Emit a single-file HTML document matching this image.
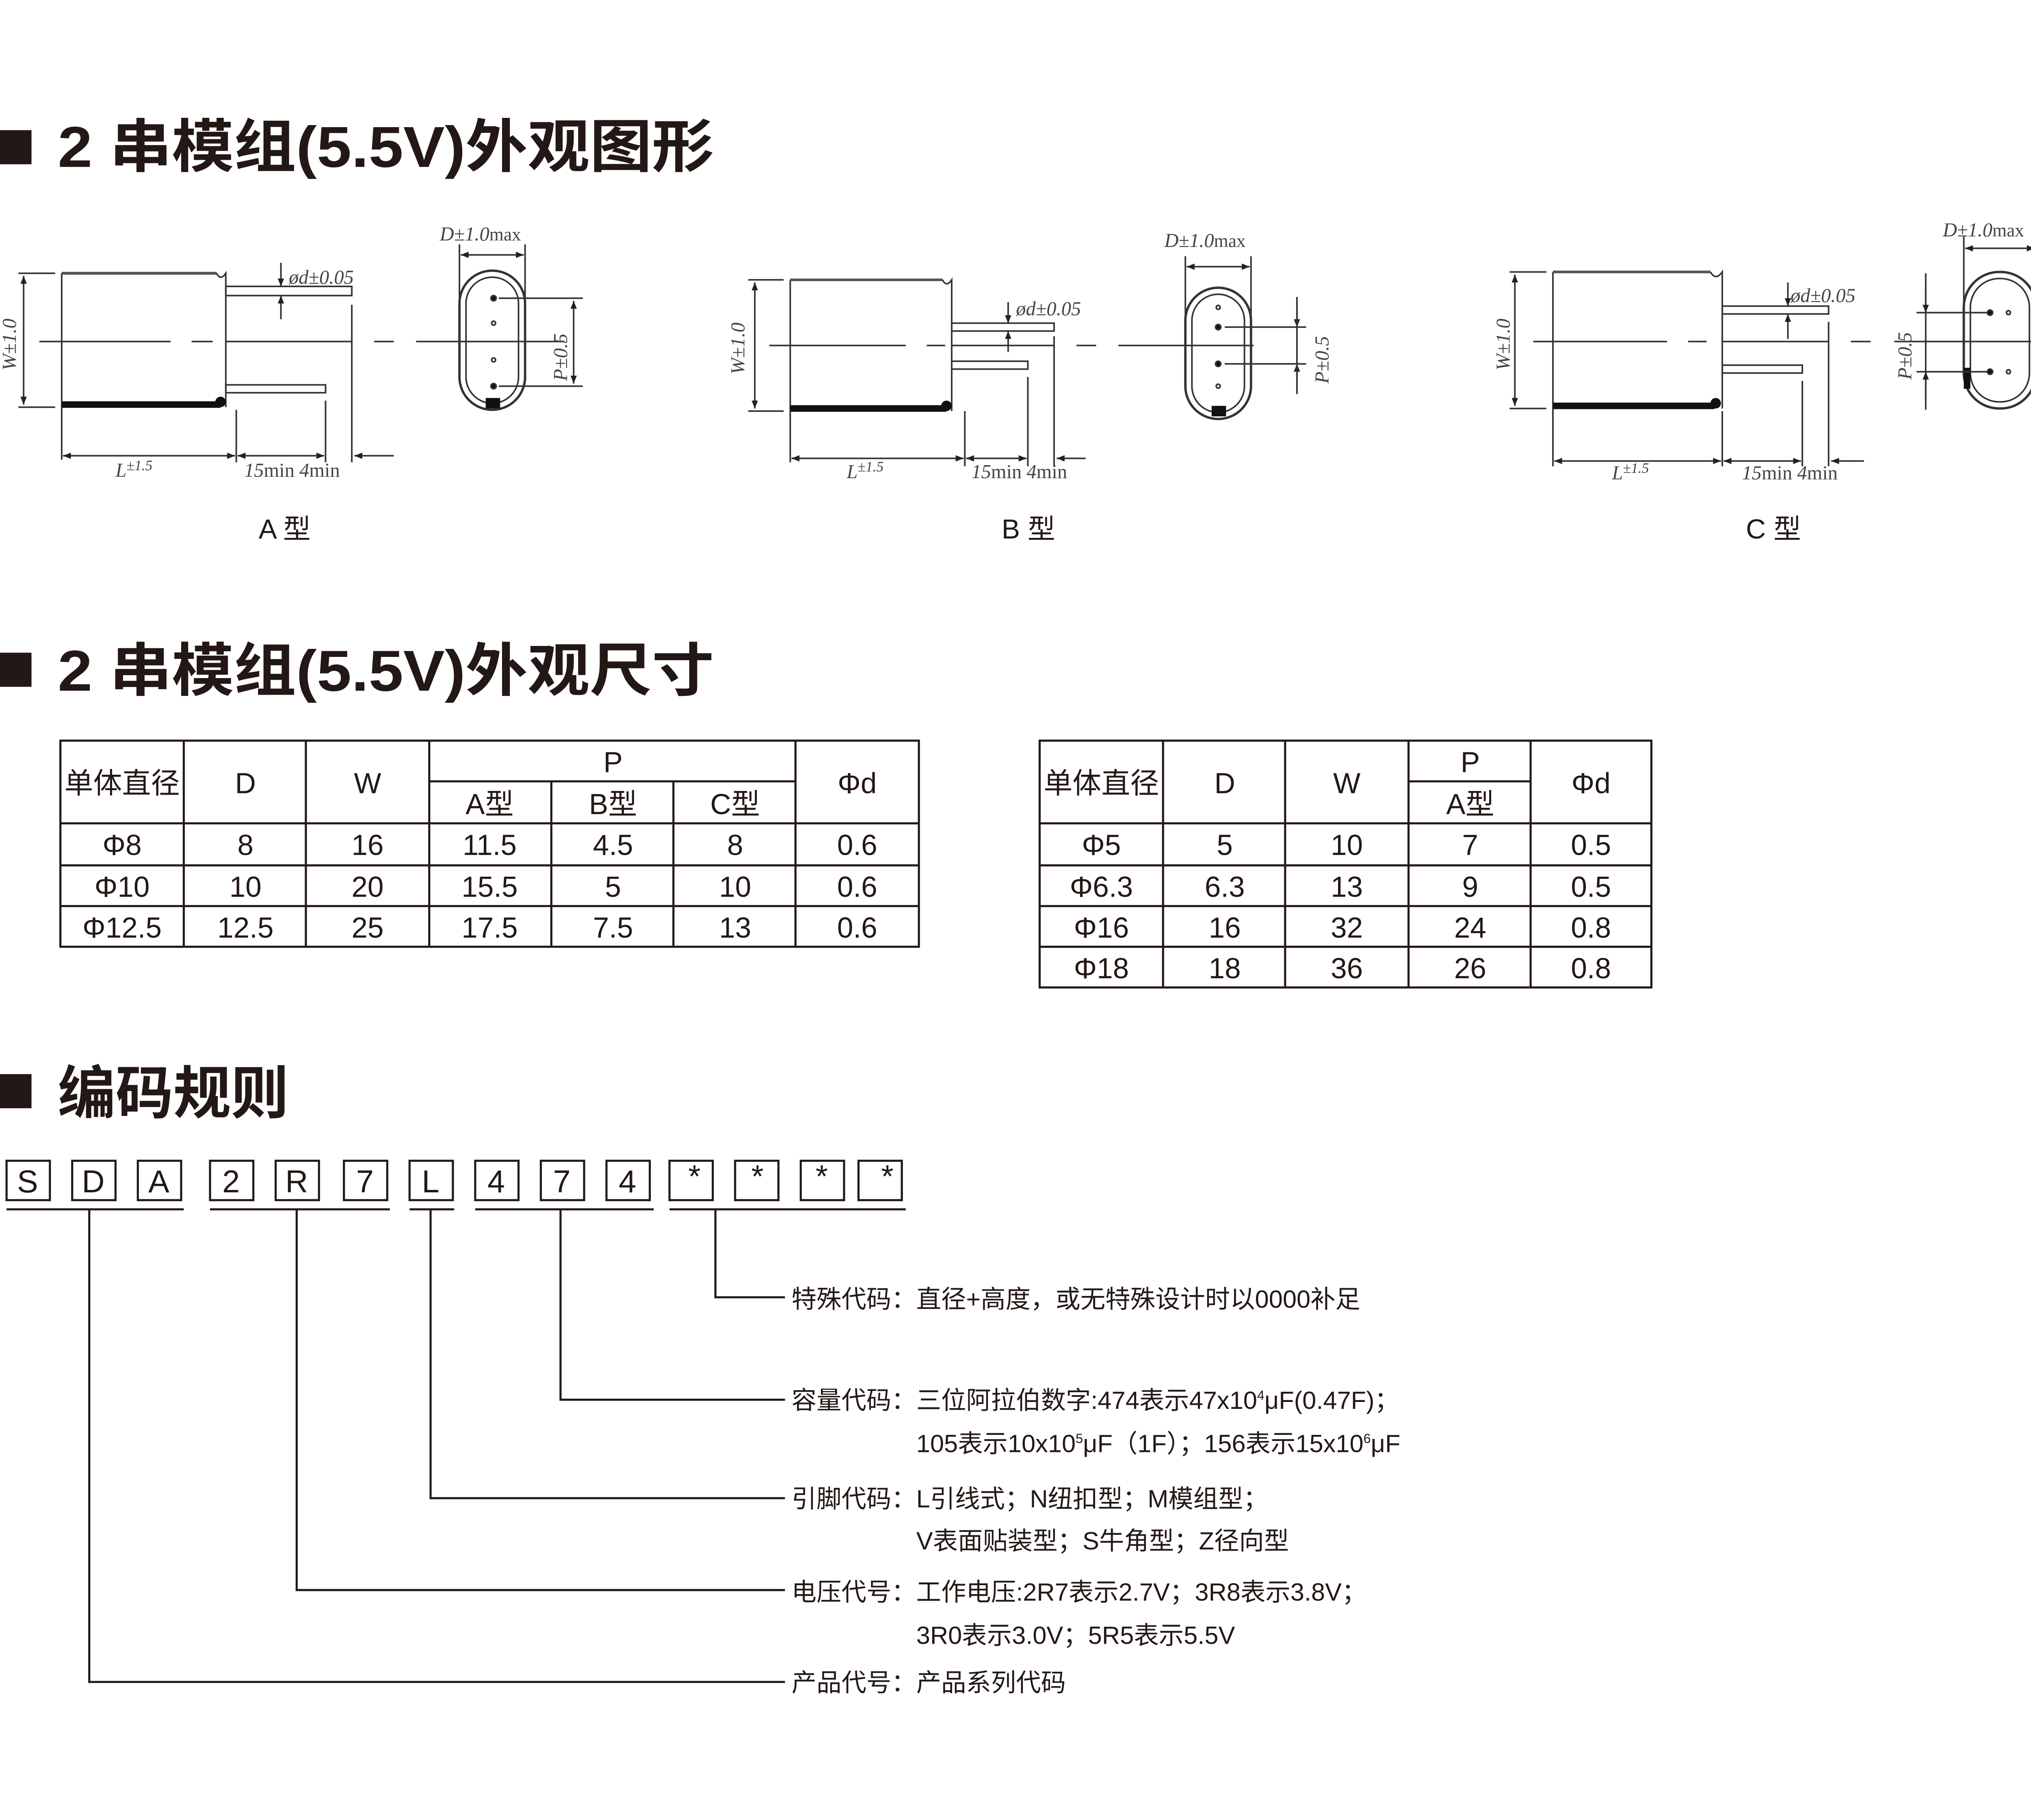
<!DOCTYPE html>
<html><head><meta charset="utf-8"><style>
html,body{margin:0;padding:0;background:#fff;}
svg{display:block;}
text{font-family:"Liberation Sans","Noto Sans CJK SC",sans-serif;fill:#231815;}
.s{font-family:"Liberation Serif","Noto Serif CJK SC",serif;font-style:italic;fill:#444;}
</style></head><body>
<svg width="5064" height="4480" viewBox="0 0 1567 1386" xmlns="http://www.w3.org/2000/svg">
<defs>
<marker id="ar" viewBox="0 0 10 10" refX="10" refY="5" markerWidth="7" markerHeight="5" orient="auto-start-reverse"><path d="M0,1 L10,5 L0,9 z" fill="#222"/></marker>
</defs>
<rect width="1567" height="1386" fill="#fff"/>

<!-- Headings -->
<rect x="0" y="99" width="24" height="26" fill="#231815"/>
<text x="44" y="127" font-size="44" font-weight="bold" textLength="500" lengthAdjust="spacingAndGlyphs">2 串模组(5.5V)外观图形</text>
<rect x="0" y="497" width="24" height="26" fill="#231815"/>
<text x="44" y="526" font-size="44" font-weight="bold" textLength="500" lengthAdjust="spacingAndGlyphs">2 串模组(5.5V)外观尺寸</text>
<rect x="0" y="818" width="24" height="26" fill="#231815"/>
<text x="44" y="848" font-size="44" font-weight="bold">编码规则</text>

<g stroke="#333" fill="none" stroke-width="1.2">
<!-- ===== A ===== -->
<line x1="47" y1="208" x2="47" y2="350"/>
<line x1="47" y1="208" x2="165" y2="208" stroke-width="2.2" stroke="#555"/>
<path d="M165,208 q3,6 7,0 L172,310"/>
<line x1="47" y1="308" x2="168" y2="308" stroke="#111" stroke-width="5"/>
<circle cx="168" cy="306" r="4" fill="#111" stroke="none"/>
<line x1="14" y1="208" x2="42" y2="208"/><line x1="14" y1="310" x2="42" y2="310"/>
<line x1="18" y1="210" x2="18" y2="308" marker-start="url(#ar)" marker-end="url(#ar)"/>
<rect x="172" y="218" width="96" height="7"/>
<rect x="172" y="293" width="76" height="6"/>
<line x1="30" y1="260" x2="130" y2="260"/><line x1="146" y1="260" x2="162" y2="260"/><line x1="172" y1="260" x2="268" y2="260"/><line x1="285" y1="260" x2="300" y2="260"/><line x1="317" y1="260" x2="430" y2="260"/>
<line x1="214" y1="200" x2="214" y2="218" marker-end="url(#ar)"/><line x1="214" y1="243" x2="214" y2="225" marker-end="url(#ar)"/>
<line x1="268" y1="232" x2="268" y2="352"/><line x1="248" y1="305" x2="248" y2="352"/><line x1="180" y1="312" x2="180" y2="352"/>
<line x1="48" y1="347" x2="179" y2="347" marker-start="url(#ar)" marker-end="url(#ar)"/>
<line x1="181" y1="347" x2="247" y2="347" marker-start="url(#ar)" marker-end="url(#ar)"/>
<line x1="300" y1="347" x2="270" y2="347" marker-end="url(#ar)"/>
<rect x="350" y="206" width="50" height="106" rx="25" stroke-width="1.8"/>
<rect x="355" y="211" width="40" height="96" rx="20"/>
<rect x="370" y="303" width="11" height="8" fill="#111" stroke="none"/>
<circle cx="376" cy="227" r="2" fill="#111"/><circle cx="376" cy="246" r="1.5"/><circle cx="376" cy="274" r="1.5"/><circle cx="376" cy="294" r="2" fill="#111"/>
<line x1="350" y1="186" x2="350" y2="250"/><line x1="400" y1="186" x2="400" y2="250"/>
<line x1="351" y1="194" x2="399" y2="194" marker-start="url(#ar)" marker-end="url(#ar)"/>
<line x1="380" y1="227" x2="444" y2="227"/><line x1="380" y1="294" x2="444" y2="294"/>
<line x1="437" y1="229" x2="437" y2="292" marker-start="url(#ar)" marker-end="url(#ar)"/>

<!-- ===== B ===== -->
<line x1="602" y1="213" x2="602" y2="352"/>
<line x1="602" y1="213" x2="718" y2="213" stroke-width="2" stroke="#555"/>
<path d="M718,213 q3,6 7,0 L725,313"/>
<line x1="602" y1="311" x2="721" y2="311" stroke="#111" stroke-width="5"/>
<circle cx="721" cy="309" r="4" fill="#111" stroke="none"/>
<line x1="570" y1="213" x2="597" y2="213"/><line x1="570" y1="313" x2="597" y2="313"/>
<line x1="575" y1="215" x2="575" y2="311" marker-start="url(#ar)" marker-end="url(#ar)"/>
<rect x="725" y="246" width="78" height="6"/>
<rect x="725" y="275" width="58" height="6"/>
<line x1="586" y1="263" x2="690" y2="263"/><line x1="706" y1="263" x2="720" y2="263"/><line x1="725" y1="263" x2="803" y2="263"/><line x1="820" y1="263" x2="835" y2="263"/><line x1="852" y1="263" x2="955" y2="263"/>
<line x1="768" y1="230" x2="768" y2="246" marker-end="url(#ar)"/><line x1="768" y1="268" x2="768" y2="252" marker-end="url(#ar)"/>
<line x1="803" y1="256" x2="803" y2="355"/><line x1="783" y1="287" x2="783" y2="355"/><line x1="735" y1="313" x2="735" y2="355"/>
<line x1="603" y1="349" x2="734" y2="349" marker-start="url(#ar)" marker-end="url(#ar)"/>
<line x1="736" y1="349" x2="782" y2="349" marker-start="url(#ar)" marker-end="url(#ar)"/>
<line x1="827" y1="349" x2="805" y2="349" marker-end="url(#ar)"/>
<rect x="903" y="219" width="50" height="100" rx="25" stroke-width="1.8"/>
<rect x="908" y="224" width="40" height="90" rx="20"/>
<rect x="923" y="309" width="11" height="8" fill="#111" stroke="none"/>
<circle cx="928" cy="234" r="1.5"/><circle cx="928" cy="249" r="2" fill="#111"/><circle cx="928" cy="277" r="2" fill="#111"/><circle cx="928" cy="294" r="1.5"/>
<line x1="903" y1="195" x2="903" y2="250"/><line x1="953" y1="195" x2="953" y2="250"/>
<line x1="904" y1="203" x2="952" y2="203" marker-start="url(#ar)" marker-end="url(#ar)"/>
<line x1="933" y1="249" x2="995" y2="249"/><line x1="933" y1="277" x2="995" y2="277"/>
<line x1="988" y1="230" x2="988" y2="249" marker-end="url(#ar)"/><line x1="988" y1="296" x2="988" y2="277" marker-end="url(#ar)"/>
<line x1="988" y1="226" x2="988" y2="300"/>

<!-- ===== C ===== -->
<line x1="1183" y1="207" x2="1183" y2="355"/>
<line x1="1183" y1="207" x2="1303" y2="207" stroke-width="2" stroke="#555"/>
<path d="M1303,207 q4,7 9,0 L1312,311"/>
<line x1="1183" y1="309" x2="1306" y2="309" stroke="#111" stroke-width="5"/>
<circle cx="1307" cy="307" r="4" fill="#111" stroke="none"/>
<line x1="1150" y1="207" x2="1178" y2="207"/><line x1="1150" y1="311" x2="1178" y2="311"/>
<line x1="1154" y1="209" x2="1154" y2="309" marker-start="url(#ar)" marker-end="url(#ar)"/>
<rect x="1312" y="233" width="81" height="6"/>
<rect x="1312" y="278" width="61" height="6"/>
<line x1="1168" y1="260" x2="1270" y2="260"/><line x1="1286" y1="260" x2="1300" y2="260"/><line x1="1312" y1="260" x2="1393" y2="260"/><line x1="1410" y1="260" x2="1425" y2="260"/><line x1="1443" y1="260" x2="1567" y2="260"/>
<line x1="1362" y1="215" x2="1362" y2="233" marker-end="url(#ar)"/><line x1="1362" y1="258" x2="1362" y2="239" marker-end="url(#ar)"/>
<line x1="1393" y1="245" x2="1393" y2="355"/><line x1="1373" y1="290" x2="1373" y2="355"/><line x1="1312" y1="313" x2="1312" y2="355"/>
<line x1="1184" y1="351" x2="1311" y2="351" marker-start="url(#ar)" marker-end="url(#ar)"/>
<line x1="1313" y1="351" x2="1372" y2="351" marker-start="url(#ar)" marker-end="url(#ar)"/>
<line x1="1420" y1="351" x2="1395" y2="351" marker-end="url(#ar)"/>
<rect x="1496" y="207" width="55" height="104" rx="27" stroke-width="1.8"/>
<rect x="1501" y="212" width="45" height="94" rx="22"/>
<rect x="1496" y="280" width="5" height="16" fill="#111" stroke="none"/>
<circle cx="1516" cy="238" r="2" fill="#111"/><circle cx="1530" cy="238" r="1.5"/><circle cx="1516" cy="283" r="2" fill="#111"/><circle cx="1530" cy="283" r="1.5"/>
<line x1="1496" y1="180" x2="1496" y2="250"/><line x1="1551" y1="180" x2="1551" y2="250"/>
<line x1="1497" y1="189" x2="1550" y2="189" marker-start="url(#ar)" marker-end="url(#ar)"/>
<line x1="1460" y1="238" x2="1514" y2="238"/><line x1="1460" y1="283" x2="1514" y2="283"/>
<line x1="1467" y1="208" x2="1467" y2="312"/>
<line x1="1467" y1="218" x2="1467" y2="238" marker-end="url(#ar)"/><line x1="1467" y1="303" x2="1467" y2="283" marker-end="url(#ar)"/>
</g>

<!-- drawing labels -->
<g font-size="15">
<text class="s" x="12" y="282" transform="rotate(-90 12 282)">W±1.0</text>
<text class="s" x="220" y="216">ød±0.05</text>
<text class="s" x="335" y="183">D±1.0<tspan font-style="normal" font-size="14">max</tspan></text>
<text class="s" x="432" y="290" transform="rotate(-90 432 290)">P±0.5</text>
<text class="s" x="88" y="363">L<tspan font-size="11" dy="-5">±1.5</tspan></text>
<text class="s" x="186" y="363">15<tspan font-style="normal">min</tspan> 4<tspan font-style="normal">min</tspan></text>
<text x="197" y="410" font-size="21">A 型</text>

<text class="s" x="567" y="285" transform="rotate(-90 567 285)">W±1.0</text>
<text class="s" x="774" y="240">ød±0.05</text>
<text class="s" x="887" y="188">D±1.0<tspan font-style="normal" font-size="14">max</tspan></text>
<text class="s" x="1012" y="292" transform="rotate(-90 1012 292)">P±0.5</text>
<text class="s" x="645" y="364">L<tspan font-size="11" dy="-5">±1.5</tspan></text>
<text class="s" x="740" y="364">15<tspan font-style="normal">min</tspan> 4<tspan font-style="normal">min</tspan></text>
<text x="763" y="410" font-size="21">B 型</text>

<text class="s" x="1150" y="282" transform="rotate(-90 1150 282)">W±1.0</text>
<text class="s" x="1364" y="230">ød±0.05</text>
<text class="s" x="1480" y="180">D±1.0<tspan font-style="normal" font-size="14">max</tspan></text>
<text class="s" x="1456" y="289" transform="rotate(-90 1456 289)">P±0.5</text>
<text class="s" x="1228" y="365">L<tspan font-size="11" dy="-5">±1.5</tspan></text>
<text class="s" x="1327" y="365">15<tspan font-style="normal">min</tspan> 4<tspan font-style="normal">min</tspan></text>
<text x="1330" y="410" font-size="21">C 型</text>
</g>

<!-- Left table -->
<g stroke="#231815" stroke-width="1.6" fill="none">
<rect x="46" y="564" width="654" height="157"/>
<line x1="46" y1="627" x2="700" y2="627"/><line x1="46" y1="659" x2="700" y2="659"/><line x1="46" y1="690" x2="700" y2="690"/>
<line x1="327" y1="595" x2="606" y2="595"/>
<line x1="140" y1="564" x2="140" y2="721"/><line x1="233" y1="564" x2="233" y2="721"/><line x1="327" y1="564" x2="327" y2="721"/>
<line x1="420" y1="595" x2="420" y2="721"/><line x1="513" y1="595" x2="513" y2="721"/><line x1="606" y1="564" x2="606" y2="721"/>
</g>
<g font-size="22" text-anchor="middle">
<text x="93" y="604">单体直径</text><text x="187" y="604">D</text><text x="280" y="604">W</text><text x="467" y="588">P</text><text x="653" y="604">Φd</text>
<text x="373" y="620">A型</text><text x="467" y="620">B型</text><text x="560" y="620">C型</text>
<text x="93" y="651">Φ8</text><text x="187" y="651">8</text><text x="280" y="651">16</text><text x="373" y="651">11.5</text><text x="467" y="651">4.5</text><text x="560" y="651">8</text><text x="653" y="651">0.6</text>
<text x="93" y="683">Φ10</text><text x="187" y="683">10</text><text x="280" y="683">20</text><text x="373" y="683">15.5</text><text x="467" y="683">5</text><text x="560" y="683">10</text><text x="653" y="683">0.6</text>
<text x="93" y="714">Φ12.5</text><text x="187" y="714">12.5</text><text x="280" y="714">25</text><text x="373" y="714">17.5</text><text x="467" y="714">7.5</text><text x="560" y="714">13</text><text x="653" y="714">0.6</text>
</g>

<!-- Right table -->
<g stroke="#231815" stroke-width="1.6" fill="none">
<rect x="792" y="564" width="466" height="188"/>
<line x1="792" y1="627" x2="1258" y2="627"/><line x1="792" y1="659" x2="1258" y2="659"/><line x1="792" y1="690" x2="1258" y2="690"/><line x1="792" y1="721" x2="1258" y2="721"/>
<line x1="1073" y1="595" x2="1166" y2="595"/>
<line x1="886" y1="564" x2="886" y2="752"/><line x1="979" y1="564" x2="979" y2="752"/><line x1="1073" y1="564" x2="1073" y2="752"/><line x1="1166" y1="564" x2="1166" y2="752"/>
</g>
<g font-size="22" text-anchor="middle">
<text x="839" y="604">单体直径</text><text x="933" y="604">D</text><text x="1026" y="604">W</text><text x="1120" y="588">P</text><text x="1212" y="604">Φd</text>
<text x="1120" y="620">A型</text>
<text x="839" y="651">Φ5</text><text x="933" y="651">5</text><text x="1026" y="651">10</text><text x="1120" y="651">7</text><text x="1212" y="651">0.5</text>
<text x="839" y="683">Φ6.3</text><text x="933" y="683">6.3</text><text x="1026" y="683">13</text><text x="1120" y="683">9</text><text x="1212" y="683">0.5</text>
<text x="839" y="714">Φ16</text><text x="933" y="714">16</text><text x="1026" y="714">32</text><text x="1120" y="714">24</text><text x="1212" y="714">0.8</text>
<text x="839" y="745">Φ18</text><text x="933" y="745">18</text><text x="1026" y="745">36</text><text x="1120" y="745">26</text><text x="1212" y="745">0.8</text>
</g>

<!-- Code boxes -->
<g stroke="#231815" stroke-width="1.6" fill="none">
<rect x="5" y="884" width="33" height="30"/><rect x="55" y="884" width="33" height="30"/><rect x="105" y="884" width="33" height="30"/>
<rect x="160" y="884" width="33" height="30"/><rect x="210" y="884" width="33" height="30"/><rect x="262" y="884" width="33" height="30"/>
<rect x="312" y="884" width="33" height="30"/>
<rect x="362" y="884" width="33" height="30"/><rect x="412" y="884" width="33" height="30"/><rect x="462" y="884" width="33" height="30"/>
<rect x="510" y="884" width="33" height="30"/><rect x="560" y="884" width="33" height="30"/><rect x="610" y="884" width="33" height="30"/><rect x="654" y="884" width="33" height="30"/>
<line x1="5" y1="921" x2="140" y2="921"/><line x1="160" y1="921" x2="297" y2="921"/><line x1="312" y1="921" x2="346" y2="921"/><line x1="362" y1="921" x2="498" y2="921"/><line x1="510" y1="921" x2="690" y2="921"/>
<polyline points="545,921 545,988 598,988"/>
<polyline points="427,921 427,1066 598,1066"/>
<polyline points="328,921 328,1141 598,1141"/>
<polyline points="226,921 226,1211 598,1211"/>
<polyline points="68,921 68,1281 598,1281"/>
</g>
<g font-size="24" text-anchor="middle">
<text x="21" y="908">S</text><text x="71" y="908">D</text><text x="121" y="908">A</text><text x="176" y="908">2</text><text x="226" y="908">R</text><text x="278" y="908">7</text><text x="328" y="908">L</text><text x="378" y="908">4</text><text x="428" y="908">7</text><text x="478" y="908">4</text>
<text x="529" y="904">*</text><text x="577" y="904">*</text><text x="626" y="904">*</text><text x="676" y="904">*</text>
</g>
<g font-size="19">
<text x="603" y="996">特殊代码：直径+高度，或无特殊设计时以0000补足</text>
<text x="603" y="1073">容量代码：三位阿拉伯数字:474表示47x10<tspan font-size="10" dy="-7">4</tspan><tspan dy="7">μF(0.47F)；</tspan></text>
<text x="698" y="1106">105表示10x10<tspan font-size="10" dy="-7">5</tspan><tspan dy="7">μF（1F）；156表示15x10</tspan><tspan font-size="10" dy="-7">6</tspan><tspan dy="7">μF</tspan></text>
<text x="603" y="1148">引脚代码：L引线式；N纽扣型；M模组型；</text>
<text x="698" y="1180">V表面贴装型；S牛角型；Z径向型</text>
<text x="603" y="1219">电压代号：工作电压:2R7表示2.7V；3R8表示3.8V；</text>
<text x="698" y="1252">3R0表示3.0V；5R5表示5.5V</text>
<text x="603" y="1288">产品代号：产品系列代码</text>
</g>
</svg>
</body></html>
